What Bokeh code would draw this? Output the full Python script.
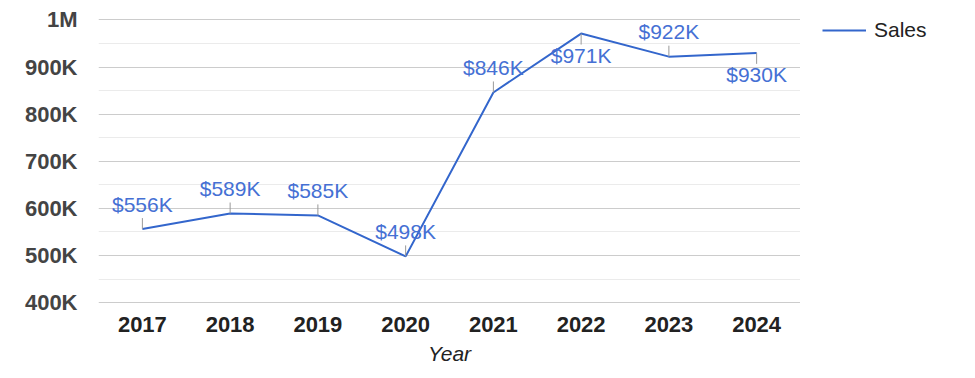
import math
from bokeh.plotting import figure
from bokeh.layouts import row
from bokeh.models import (ColumnDataSource, FixedTicker, Legend, LegendItem, FactorRange, Range1d)
from bokeh.core.properties import value
from bokeh.embed import file_html
from bokeh.resources import INLINE

years = ["2017", "2018", "2019", "2020", "2021", "2022", "2023", "2024"]
sales = [556000, 589000, 585000, 498000, 846000, 971000, 922000, 930000]
sales_labels = ["$556K", "$589K", "$585K", "$498K", "$846K", "$971K", "$922K", "$930K"]
label_side = ["above", "above", "above", "above", "above", "below", "above", "below"]

y_ticks = [400000, 500000, 600000, 700000, 800000, 900000, 1000000]
y_tick_labels = ["400K", "500K", "600K", "700K", "800K", "900K", "1M"]
y_minor = [450000, 550000, 650000, 750000, 850000, 950000]

FONT = "Liberation Sans"
LINE = "#3366cc"
LABEL = "#4570d4"
H = 378

p = figure(width=800, height=H, x_range=FactorRange(*years),
           y_range=Range1d(398000, 1003000),
           output_backend="svg", toolbar_location=None,
           min_border_left=98, min_border_right=0, min_border_top=18, min_border_bottom=H - 303)
p.outline_line_color = None
p.background_fill_color = "white"

src = ColumnDataSource(dict(
    x=years, y=sales, lab=sales_labels,
    ang=[math.pi / 2 if s == "above" else -math.pi / 2 for s in label_side],
    off=[-25 if s == "above" else 22 for s in label_side],
))

r = p.line("x", "y", source=src, line_color=LINE, line_width=2)
p.ray(x="x", y="y", length=11, length_units="screen", angle="ang", source=src,
      line_color="#999999", line_width=1)
p.text(x="x", y="y", text="lab", y_offset="off", source=src,
       text_align="center", text_baseline="alphabetic",
       text_font=value(FONT), text_font_size=value("21px"), text_color=LABEL)

# axes
p.yaxis.ticker = FixedTicker(ticks=y_ticks, minor_ticks=y_minor)
p.yaxis.major_label_overrides = {t: l for t, l in zip(y_ticks, y_tick_labels)}
p.yaxis.axis_line_color = None
p.yaxis.major_tick_line_color = None
p.yaxis.minor_tick_line_color = None
p.yaxis.major_tick_out = 0
p.yaxis.major_tick_in = 0
p.yaxis.major_label_text_font = FONT
p.yaxis.major_label_text_font_size = "22px"
p.yaxis.major_label_text_font_style = "bold"
p.yaxis.major_label_text_color = "#444444"
p.yaxis.major_label_standoff = 17

p.xaxis.axis_line_color = None
p.xaxis.major_tick_line_color = None
p.xaxis.minor_tick_line_color = None
p.xaxis.major_tick_out = 0
p.xaxis.major_tick_in = 0
p.xaxis.major_label_text_font = FONT
p.xaxis.major_label_text_font_size = "22px"
p.xaxis.major_label_text_font_style = "bold"
p.xaxis.major_label_text_color = "#222222"
p.xaxis.major_label_standoff = 13
p.xaxis.axis_label = "Year"
p.xaxis.axis_label_text_font = FONT
p.xaxis.axis_label_text_font_size = "21px"
p.xaxis.axis_label_text_font_style = "italic"
p.xaxis.axis_label_text_color = "#222222"
p.xaxis.axis_label_standoff = 7

p.xgrid.grid_line_color = None
p.ygrid.grid_line_color = "#cccccc"
p.ygrid.minor_grid_line_color = "#ebebeb"

# legend panel to the right of the plot area (its line is out of view; only its key shows)
p2 = figure(width=159, height=H, x_range=FactorRange(*years), y_range=Range1d(0, 1),
            output_backend="svg", toolbar_location=None,
            min_border_left=22, min_border_right=0, min_border_top=0, min_border_bottom=0)
p2.axis.visible = False
p2.grid.grid_line_color = None
p2.outline_line_color = None
key = p2.line("x", "y", source=src, line_color=LINE, line_width=2)
legend = Legend(items=[LegendItem(label="Sales", renderers=[key])],
                location="top_left", margin=0, padding=0,
                glyph_width=44, glyph_height=20, label_height=20, label_standoff=8,
                label_text_font=FONT, label_text_font_size="21px", label_text_color="#222222",
                border_line_color=None, background_fill_alpha=0)
p2.add_layout(legend)

layout = row(p, p2)
open("out.html", "w").write(file_html(layout, INLINE))
